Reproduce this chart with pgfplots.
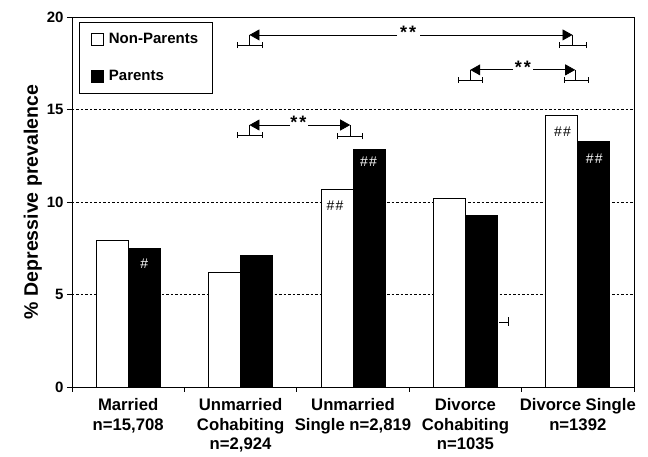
\documentclass[border=0pt]{standalone}
\usepackage{fontspec}
\setmainfont{Liberation Sans}
\usepackage{pgfplots}
\usepackage{pgfplotstable}
\pgfplotsset{compat=1.18}
\usetikzlibrary{arrows.meta}

\pgfplotstableread{
x np p
0 7.9 7.5
1 6.2 7.1
2 10.7 12.85
3 10.2 9.25
4 14.7 13.25
}\data

% bracket: x1 x2 xv yarrow ybr
\newcommand{\brk}[5]{%
  \draw[line width=0.6pt] (#1,#5) -- (#2,#5);
  \draw[line width=0.6pt] (#1,#5-0.16) -- (#1,#5+0.16);
  \draw[line width=0.6pt] (#2,#5-0.16) -- (#2,#5+0.16);
  \draw[line width=0.8pt] (#3,#4) -- (#3,#5);
}
\newcommand{\hsh}{\#\kern1.2pt\#}
\newcommand{\stars}{*\kern2pt*}

\begin{document}
\begin{tikzpicture}
\begin{axis}[
  scale only axis, width=562pt, height=370pt,
  xmin=-0.5, xmax=4.5, ymin=0, ymax=20,
  ybar=0pt, bar width=32pt,
  clip=false,
  axis line style={black, line width=0.8pt},
  ytick={0,5,10,15,20},
  tick pos=left,
  tick align=outside,
  major tick length=5pt,
  ymajorgrids,
  grid style={black, line width=0.5pt, dash pattern=on 2.5pt off 2pt},
  xtick={0,1,2,3,4},
  xticklabels={{Married\\n=15,708},{Unmarried\\Cohabiting\\n=2,924},{Unmarried\\Single n=2,819},{Divorce\\Cohabiting\\n=1035},{Divorce Single\\n=1392}},
  xticklabel style={align=center, font=\fontsize{16.7}{19.5}\selectfont\bfseries, yshift=-3pt},
  xtick style={draw=none},
  extra x ticks={-0.5,0.5,1.5,2.5,3.5,4.5},
  extra x tick labels={},
  extra x tick style={xtick style={draw=black, line width=0.8pt}, grid=none},
  ytick style={draw=black, line width=0.8pt},
  yticklabel style={font=\fontsize{15}{18}\selectfont\bfseries},
  /pgf/number format/assume math mode=true,
  ylabel={\% Depressive prevalence},
  ylabel style={font=\fontsize{19.5}{22}\selectfont\bfseries, yshift=-2pt},
  legend style={at={(0.0125,0.986)}, anchor=north west, draw=black, line width=0.6pt,
    font=\fontsize{15}{18}\selectfont\bfseries, inner xsep=12pt, inner ysep=9pt,
    row sep=21pt, legend cell align=left,
    /tikz/every odd column/.append style={column sep=3pt}},
]
\addplot[fill=white, draw=black, line width=0.8pt,
  legend image code/.code={\draw[fill=white,draw=black,line width=0.6pt] (0pt,-6pt) rectangle (12pt,6pt);}]
  table[x=x,y=np]{\data};
\addplot[fill=black, draw=black, line width=0.8pt,
  legend image code/.code={\draw[fill=black,draw=black,line width=0.6pt] (0pt,-6pt) rectangle (12pt,6pt);}]
  table[x=x,y=p]{\data};
\legend{Non-Parents, Parents}

% hash marks
\node[font=\fontsize{14}{14}\selectfont, text=white] at (axis cs:0.142,6.69) {\#};
\node[font=\fontsize{14}{14}\selectfont, text=black] at (axis cs:1.84,9.78) {\hsh};
\node[font=\fontsize{14}{14}\selectfont, text=white] at (axis cs:2.138,12.15) {\hsh};
\node[font=\fontsize{14}{14}\selectfont, text=black] at (axis cs:3.864,13.8) {\hsh};
\node[font=\fontsize{14}{14}\selectfont, text=white] at (axis cs:4.146,12.32) {\hsh};

% annotation 1
\brk{0.967}{1.195}{1.079}{19.03}{18.47}
\brk{3.835}{4.072}{3.953}{19.03}{18.47}
\draw[line width=0.8pt, -{Triangle[length=10pt,width=11pt]}] (2.393,19.03) -- (1.079,19.03);
\draw[line width=0.8pt, -{Triangle[length=10pt,width=11pt]}] (2.598,19.03) -- (3.953,19.03);
\node[font=\fontsize{18}{18}\selectfont\bfseries] at (axis cs:2.491,19.18) {\stars};

% annotation 2
\brk{2.933}{3.152}{3.043}{17.14}{16.6}
\brk{3.876}{4.095}{3.977}{17.14}{16.6}
\draw[line width=0.8pt, -{Triangle[length=10pt,width=11pt]}] (3.425,17.14) -- (3.043,17.14);
\draw[line width=0.8pt, -{Triangle[length=10pt,width=11pt]}] (3.603,17.14) -- (3.977,17.14);
\node[font=\fontsize{18}{18}\selectfont\bfseries] at (axis cs:3.512,17.29) {\stars};

% annotation 3
\brk{0.967}{1.195}{1.079}{14.16}{13.62}
\brk{1.862}{2.085}{1.975}{14.16}{13.55}
\draw[line width=0.8pt, -{Triangle[length=10pt,width=11pt]}] (1.441,14.16) -- (1.079,14.16);
\draw[line width=0.8pt, -{Triangle[length=10pt,width=11pt]}] (1.601,14.16) -- (1.975,14.16);
\node[font=\fontsize{18}{18}\selectfont\bfseries] at (axis cs:1.515,14.31) {\stars};

% stray bracket
\draw[line width=0.6pt] (3.30,3.51) -- (3.38,3.51);
\draw[line width=0.6pt] (3.38,3.3) -- (3.38,3.8);

\path (rel axis cs:-0.1281,-0.1892) rectangle (rel axis cs:1.0249,1.0459);
\end{axis}
\end{tikzpicture}
\end{document}
